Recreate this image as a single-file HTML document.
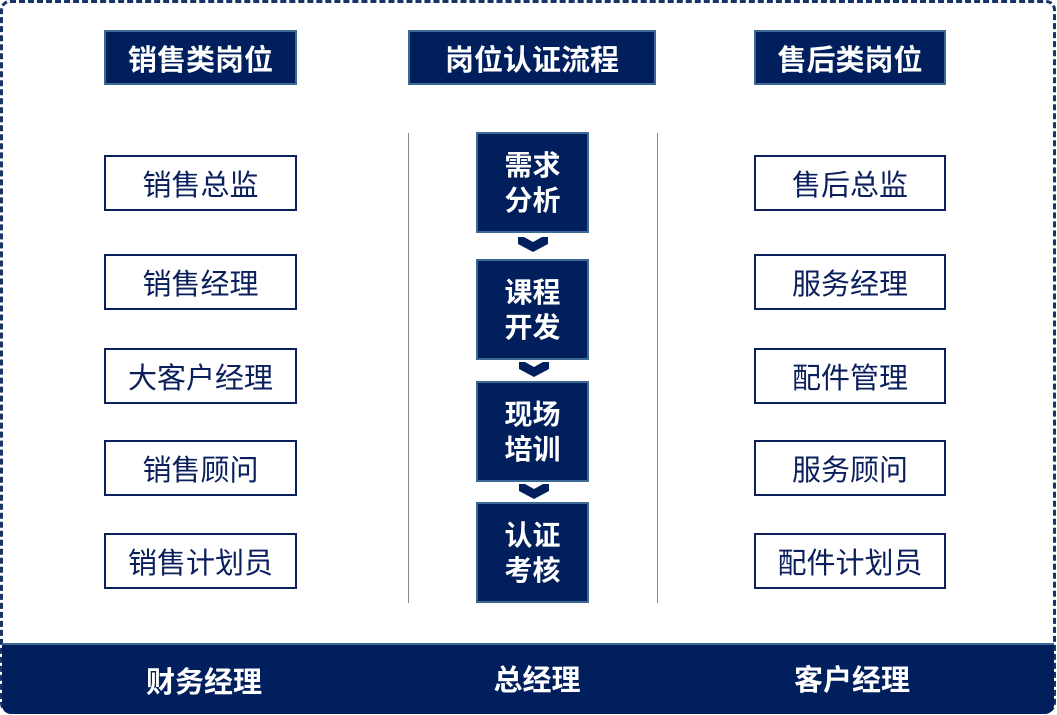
<!DOCTYPE html>
<html><head><meta charset="utf-8"><style>
body{margin:0;width:1057px;height:715px;background:#fff;position:relative;overflow:hidden;font-family:"Liberation Sans","Noto Sans CJK SC",sans-serif}
.a{position:absolute;box-sizing:border-box;display:flex;align-items:center;justify-content:center;text-align:center}
.h{background:#001f5c;border:2px solid #3d6a94;color:#fff;font-weight:bold;font-size:29px}
.o{border:2px solid #0a1f5c;color:#0a1f5c;font-size:29px;background:#fff}
.f{background:#001f5c;border:2px solid #3d6a94;color:#fff;font-weight:bold;font-size:28px;line-height:35px}
.v{position:absolute;width:1px;background:#888;top:133px;height:470px}
.b{color:#fff;font-weight:bold;font-size:29px}
</style></head><body>
<div style="position:absolute;left:0;top:0;width:1056px;height:713px;border:3px dashed #1a3366;border-radius:10px;box-sizing:border-box"></div>
<div style="position:absolute;left:2px;top:643px;width:1052px;height:69px;background:#001f5c;border-top:2px solid #3d6a94;border-radius:0 0 9px 9px"></div>
<div class="a h" style="left:104px;top:30px;width:193px;height:55px">销售类岗位</div>
<div class="a h" style="left:408px;top:30px;width:248px;height:55px">岗位认证流程</div>
<div class="a h" style="left:754px;top:30px;width:192px;height:55px">售后类岗位</div>
<div class="a o" style="left:104px;top:155px;width:193px;height:56px">销售总监</div>
<div class="a o" style="left:104px;top:254px;width:193px;height:56px">销售经理</div>
<div class="a o" style="left:104px;top:348px;width:193px;height:56px">大客户经理</div>
<div class="a o" style="left:104px;top:440px;width:193px;height:56px">销售顾问</div>
<div class="a o" style="left:104px;top:533px;width:193px;height:56px">销售计划员</div>
<div class="a o" style="left:754px;top:155px;width:192px;height:56px">售后总监</div>
<div class="a o" style="left:754px;top:254px;width:192px;height:56px">服务经理</div>
<div class="a o" style="left:754px;top:348px;width:192px;height:56px">配件管理</div>
<div class="a o" style="left:754px;top:440px;width:192px;height:56px">服务顾问</div>
<div class="a o" style="left:754px;top:533px;width:192px;height:56px">配件计划员</div>
<div class="v" style="left:408px"></div><div class="v" style="left:657px"></div>
<div class="a f" style="left:476px;top:132px;width:113px;height:101px">需求<br>分析</div>
<div class="a f" style="left:476px;top:259px;width:113px;height:101px">课程<br>开发</div>
<div class="a f" style="left:476px;top:381px;width:113px;height:101px">现场<br>培训</div>
<div class="a f" style="left:476px;top:502px;width:113px;height:101px">认证<br>考核</div>
<svg style="position:absolute;left:0;top:0" width="1057" height="715">
<g fill="#001f5c">
<polygon points="518,237 524,237 533,242 542,237 548,237 548,244 533,252 518,244"/>
<polygon points="519,362 525,362 534,367 543,362 549,362 549,369 534,377 519,369"/>
<polygon points="519,484 525,484 534,489 543,484 549,484 549,491 534,499 519,491"/>
</g></svg>
<div class="a b" style="left:104px;top:660px;width:200px;height:40px">财务经理</div>
<div class="a b" style="left:437px;top:658px;width:200px;height:40px">总经理</div>
<div class="a b" style="left:752px;top:658px;width:200px;height:40px">客户经理</div>
</body></html>
